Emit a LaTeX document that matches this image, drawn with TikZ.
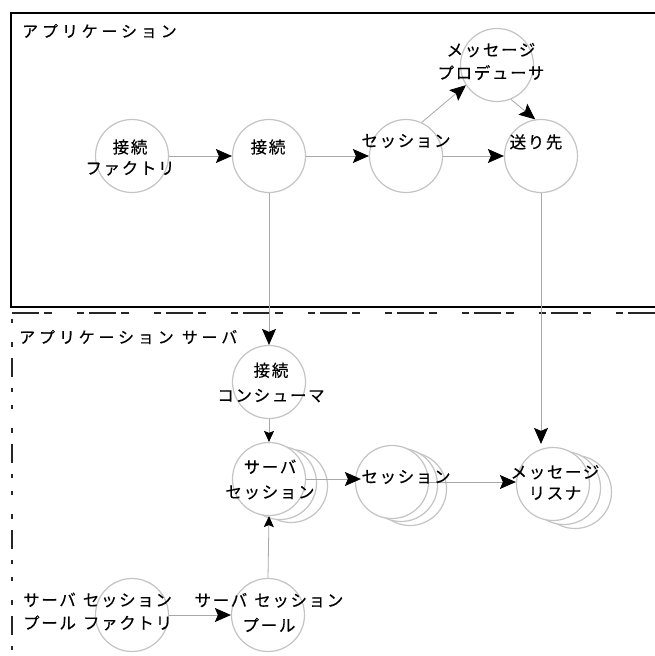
\documentclass[tikz,border=0pt]{standalone}
\usepackage{fontspec}
\newfontfamily\jp[LetterSpace=10,FakeBold=0.3]{Noto Sans CJK JP}
\newfontfamily\jpwide[LetterSpace=24,FakeBold=0.3]{Noto Sans CJK JP}
\usetikzlibrary{arrows.meta}
\definecolor{circgray}{HTML}{C4C4C4}
\definecolor{linegray}{HTML}{A8A8A8}
\begin{document}
\begin{tikzpicture}[x=1pt,y=-1pt,
  circ/.style={circle, draw=circgray, line width=1.2pt, minimum size=73pt, inner sep=0pt, fill=white},
  lbl/.style={font=\jp\fontsize{16.5}{23}\selectfont, inner sep=0pt, align=center, text=black},
  conn/.style={draw=linegray, line width=0.8pt, -{Stealth[length=16pt,width=14pt,inset=3pt,fill=black,color=black]}},
  connsm/.style={draw=linegray, line width=0.8pt, -{Stealth[length=11pt,width=10pt,inset=2pt,fill=black,color=black]}},
  boxline/.style={draw=black, line width=2pt},
  dashtop/.style={draw=black!85, line width=2pt, dash pattern=on 7pt off 5pt on 27pt off 5pt on 8pt off 25pt, dash phase=10pt},
  dashleft/.style={draw=black!85, line width=2pt, dash pattern=on 19pt off 11pt on 4pt off 13pt on 4pt off 19pt on 5pt off 11pt, dash phase=41pt}]
\useasboundingbox[fill=white] (0,0) rectangle (654,656);

% frames
\draw[boxline] (655,13) -- (11,13) -- (11,306.5) -- (655,306.5);
\draw[dashtop] (10,313) -- (655,313);
\draw[dashleft] (12,313) -- (12,657);

\node[lbl, font=\jpwide\fontsize{16}{23}\selectfont, anchor=west] (lapp) at (22,31) {アプリケーション};
\node[lbl, font=\jpwide\fontsize{16}{23}\selectfont, anchor=west] (lsrv) at (19,337) {アプリケーション\hspace{8pt}サーバ};

% top circles
\node[circ] (cf) at (132,156) {};
\node[circ] (c) at (269,156) {};
\node[circ] (s) at (406,156) {};
\node[circ] (d) at (541,156) {};
\node[circ] (mp) at (497,65) {};

% lower circles
\node[circ] (cc) at (269,382) {};
\node[circ] (ss2) at (291,486) {};
\node[circ] (ss1) at (280,483) {};
\node[circ] (ss) at (269,479) {};
\node[circ] (st2) at (410,489) {};
\node[circ] (st1) at (401,485) {};
\node[circ] (st) at (392,482) {};
\node[circ] (ml2) at (575,492) {};
\node[circ] (ml1) at (564,488) {};
\node[circ] (ml) at (553,484) {};
\node[circ] (ssf) at (132,615) {};
\node[circ] (pool) at (268,615) {};

% connectors
\draw[conn] (cf.east) -- (c.west);
\draw[conn] (c.east) -- (s.west);
\draw[conn] (s.east) -- (d.west);
\draw[conn] (s.65) -- (mp.213);
\draw[conn] (mp.292) -- (d.99);
\draw[conn] (c.south) -- (cc.north);
\draw[conn, shorten >=3pt] (d.south) -- (d.south |- ml.north);
\draw[connsm] (cc.south) -- (ss.north);
\draw[conn] (ss.east) -- ([xshift=6pt]ss.east -| st.west);
\draw[conn] (st.east) -- (st.east -| ml.west);
\draw[connsm] (pool.north) -- (ss.south);
\draw[conn] (ssf.east) -- (pool.west);

% labels
\node[lbl, font=\jp\fontsize{16.5}{21}\selectfont] (tcf) at (130,157.5) {接続\\ファクトリ};
\node[lbl] (tc) at (268,147) {接続};
\node[lbl] (ts) at (406,141) {セッション};
\node[lbl] (td) at (536,142) {送り先};
\node[lbl] (tmp) at (491,61.5) {メッセージ\\プロデューサ};
\node[lbl, font=\jp\fontsize{16.5}{25}\selectfont] (tcc) at (271,382.5) {接続\\コンシューマ};
\node[lbl, font=\jp\fontsize{16.5}{25}\selectfont] (tss) at (270,479.5) {サーバ\\セッション};
\node[lbl] (tst) at (406,477) {セッション};
\node[lbl, font=\jp\fontsize{16.5}{21}\selectfont] (tml) at (555,482.5) {メッセージ\\リスナ};
\node[lbl, align=left, anchor=west] (tssf) at (23,611.5) {サーバ\hspace{7pt}セッション\\プール\hspace{7pt}ファクトリ};
\node[lbl, font=\jp\fontsize{16.5}{25}\selectfont] (tpool) at (269,612.5) {サーバ\hspace{7pt}セッション\\プール};
\end{tikzpicture}
\end{document}
